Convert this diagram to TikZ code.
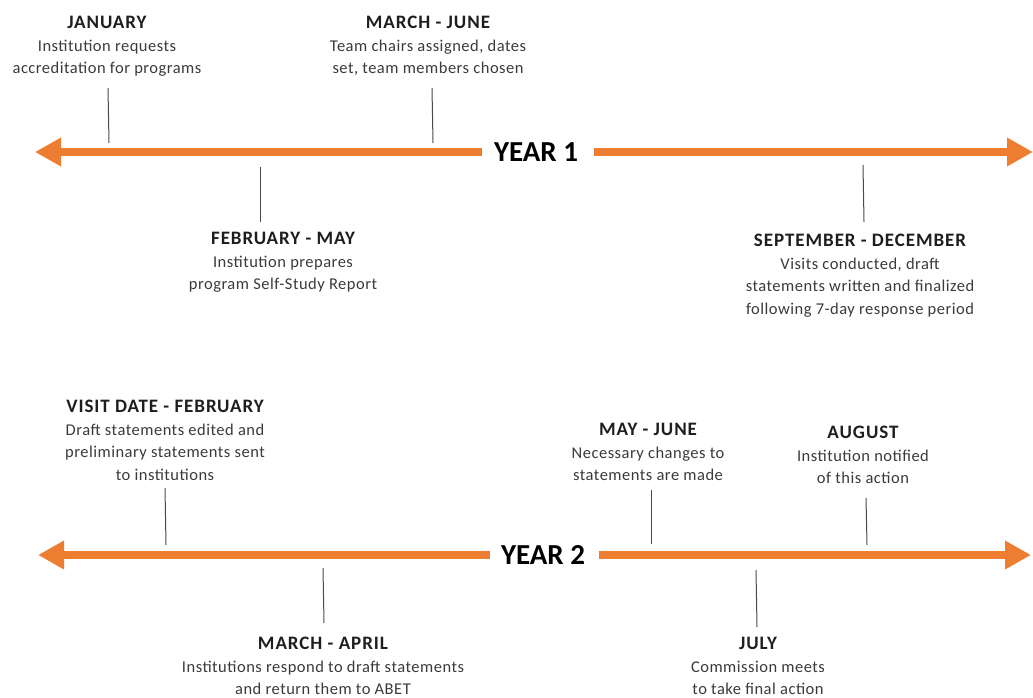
\documentclass[tikz,border=0pt]{standalone}
\usepackage{fontspec}
\setmainfont[LetterSpace=3]{Carlito}
\newfontfamily\titlefont[LetterSpace=5]{Carlito}
\newfontfamily\yearfont{Carlito}
\usetikzlibrary{arrows.meta}
\definecolor{abetorange}{HTML}{ED7D31}
\definecolor{titlegray}{HTML}{1E1E1E}
\definecolor{bodygray}{HTML}{3A3A3A}
\definecolor{tickgray}{HTML}{4A4A4A}
\newcommand{\ttl}[1]{{\titlefont\fontsize{19}{23}\selectfont\bfseries\color{titlegray}#1}}
\tikzset{
  ev/.style={anchor=north, inner sep=0pt, align=center, text=bodygray,
    font=\fontsize{16.5}{22.5}\selectfont},
  yr/.style={font=\yearfont\fontsize{29}{30}\selectfont\bfseries, text=black, inner ysep=0pt},
  tl/.style={draw=abetorange, line width=8pt,
    -{Triangle[length=26pt,width=27pt]}},
  tick/.style={draw=tickgray, line width=1pt},
}
\begin{document}
\begin{tikzpicture}[x=1pt,y=-1pt]
\useasboundingbox (0,0) rectangle (1033,698);
% ---- Year 1 ----
\node[yr, inner xsep=12pt] (y1) at (536,152) {YEAR 1};
\coordinate (y1L) at (35,152);
\coordinate (y1R) at (1033,152);
\draw[tl] (y1.west) -- (y1L);
\draw[tl] ([xshift=4pt]y1.east) -- (y1R);

\node[ev] (jan) at (107,16) {\ttl{JANUARY}\\Institution requests\\accreditation for programs};
\node[ev] (mar) at (428,16) {\ttl{MARCH - JUNE}\\Team chairs assigned, dates\\set, team members chosen};
\node[ev] (feb) at (283,232) {\ttl{FEBRUARY - MAY}\\Institution prepares\\program Self-Study Report};
\node[ev] (sep) at (860,234) {\ttl{SEPTEMBER - DECEMBER}\\Visits conducted, draft\\statements written and finalized\\following 7-day response period};

\coordinate (t1a) at (108,88);  \coordinate (t1b) at (109,143);
\coordinate (t2a) at (432,88);  \coordinate (t2b) at (433,143);
\coordinate (t3a) at (260,167); \coordinate (t3b) at (260,222);
\coordinate (t4a) at (863,165); \coordinate (t4b) at (864,222);
\draw[tick] (t1a) -- (t1b);
\draw[tick] (t2a) -- (t2b);
\draw[tick] (t3a) -- (t3b);
\draw[tick] (t4a) -- (t4b);

% ---- Year 2 ----
\node[yr, inner xsep=11pt] (y2) at (543,555) {YEAR 2};
\coordinate (y2L) at (38,555);
\coordinate (y2R) at (1031,555);
\draw[tl] (y2.west) -- (y2L);
\draw[tl] ([xshift=3pt]y2.east) -- (y2R);

\node[ev] (vis) at (165,400) {\ttl{VISIT DATE - FEBRUARY}\\Draft statements edited and\\preliminary statements sent\\to institutions};
\node[ev] (may) at (648,423) {\ttl{MAY - JUNE}\\Necessary changes to\\statements are made};
\node[ev] (aug) at (863,426) {\ttl{AUGUST}\\Institution notified\\of this action};
\node[ev] (apr) at (323,637) {\ttl{MARCH - APRIL}\\Institutions respond to draft statements\\and return them to ABET};
\node[ev] (jul) at (758,637) {\ttl{JULY}\\Commission meets\\to take final action};

\coordinate (s1a) at (165,488); \coordinate (s1b) at (166,545);
\coordinate (s2a) at (651,490); \coordinate (s2b) at (651,544);
\coordinate (s3a) at (866,498); \coordinate (s3b) at (867,545);
\coordinate (s4a) at (323,568); \coordinate (s4b) at (324,623);
\coordinate (s5a) at (756,570); \coordinate (s5b) at (757,627);
\draw[tick] (s1a) -- (s1b);
\draw[tick] (s2a) -- (s2b);
\draw[tick] (s3a) -- (s3b);
\draw[tick] (s4a) -- (s4b);
\draw[tick] (s5a) -- (s5b);
\end{tikzpicture}
\end{document}
